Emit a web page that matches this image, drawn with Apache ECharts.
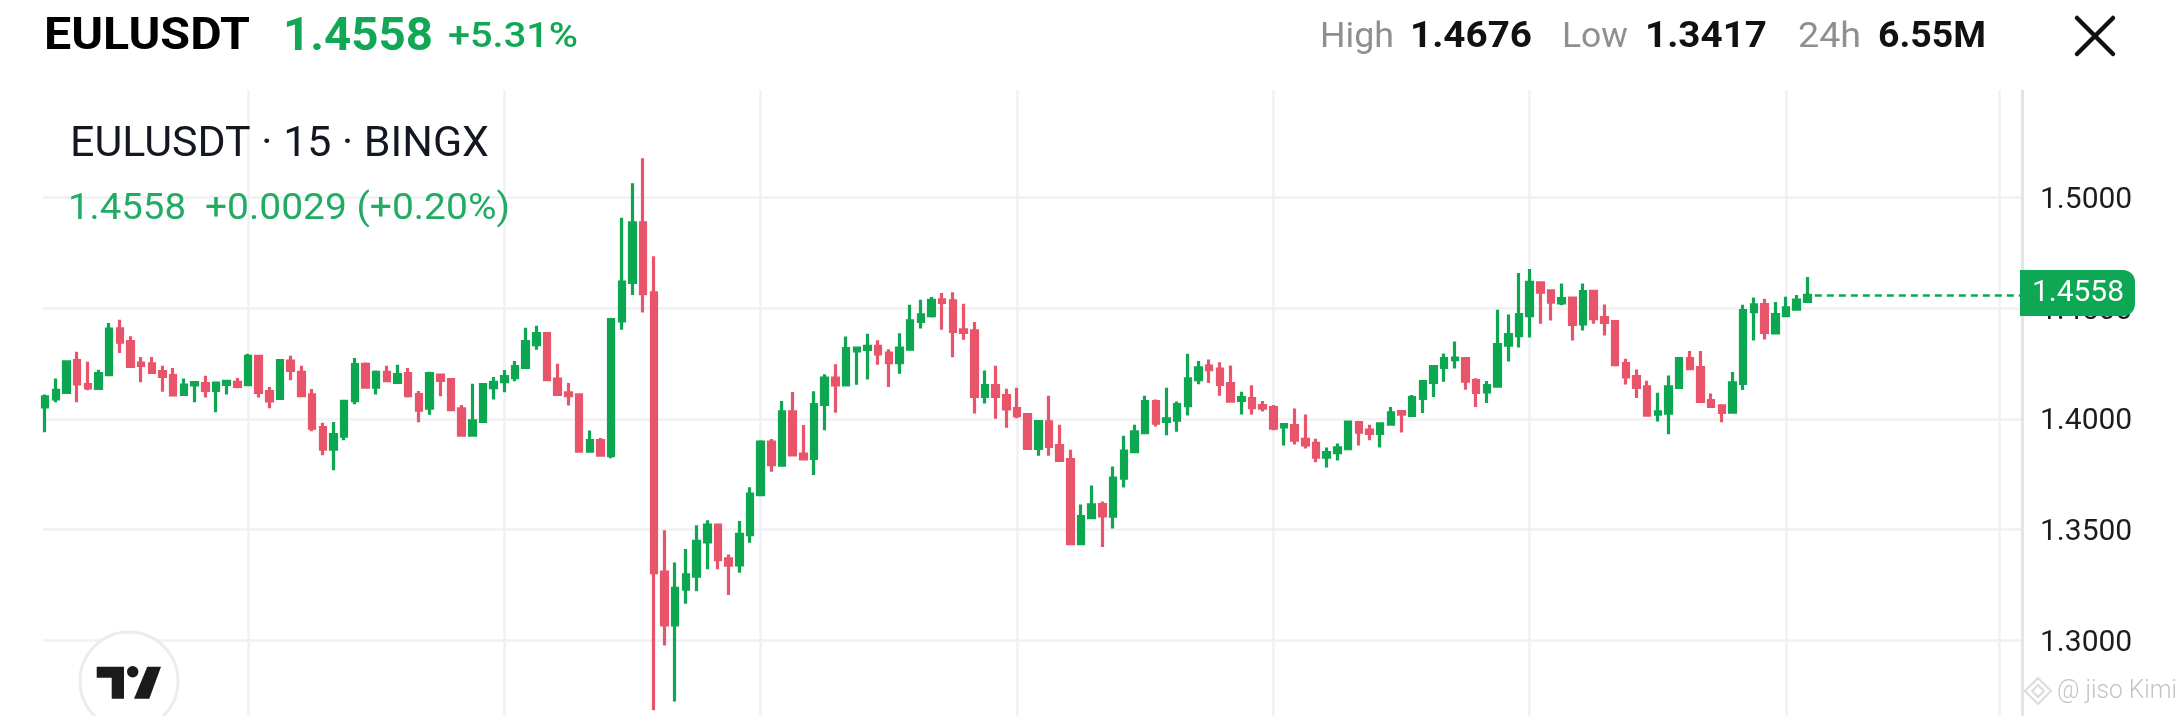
<!DOCTYPE html>
<html><head><meta charset="utf-8">
<style>html,body{margin:0;padding:0;background:#fff;overflow:hidden}#c{width:2183px;height:716px}</style>
<script src="https://cdn.jsdelivr.net/npm/echarts@6/dist/echarts.min.js"></script>
</head><body><div id="c"></div>
<script>
const symbolName = 'EULUSDT';
const lastPrice = '1.4558';
const opens = [
1.4054,1.4090,1.4120,1.4263,1.4155,1.4138,1.4200,1.4407,1.4349,1.4252,
1.4249,1.4213,1.4195,1.4110,1.4153,1.4159,1.4129,1.4156,1.4165,1.4155,
1.4282,1.4123,1.4093,1.4261,1.4210,1.4108,1.3961,1.3863,1.3922,1.4082,
1.4246,1.4143,1.4210,1.4165,1.4204,1.4110,1.4048,1.4198,1.4177,1.4045,
1.3926,1.3989,1.4141,1.4168,1.4186,1.4233,1.4335,1.4385,1.4180,1.4117,
1.4108,1.3854,1.3902,1.3834,1.4443,1.4616,1.4885,1.4569,1.3308,1.3069,
1.3231,1.3290,1.3444,1.3520,1.3368,1.3341,1.3477,1.3658,1.3895,1.3791,
1.4032,1.3841,1.3822,1.4065,1.4184,1.4154,1.4307,1.4314,1.4327,1.4297,
1.4254,1.4315,1.4440,1.4466,1.4538,1.4533,1.4402,1.4398,1.4102,1.4150,
1.4105,1.4046,1.4019,1.3867,1.3986,1.3879,1.3816,1.3437,1.3554,1.3613,
1.3561,1.3732,1.3852,1.3938,1.4078,1.3989,1.3994,1.4060,1.4177,1.4238,
1.4225,1.4159,1.4084,1.4092,1.4060,1.4051,1.3964,1.3970,1.3907,1.3889,
1.3827,1.3847,1.3865,1.3983,1.3949,1.3934,1.3976,1.4033,1.4016,1.4093,
1.4165,1.4233,1.4268,1.4272,1.4173,1.4122,1.4148,1.4333,1.4376,1.4466,
1.4614,1.4578,1.4524,1.4545,1.4429,1.4576,1.4457,1.4439,1.4250,1.4191,
1.4145,1.4021,1.4026,1.4142,1.4272,1.4232,1.4083,1.4059,1.4030,1.4160,
1.4484,1.4516,1.4388,1.4466,1.4496,1.4531];
const closes = [
1.4099,1.4129,1.4257,1.4158,1.4140,1.4204,1.4406,1.4346,1.4237,1.4242,
1.4210,1.4192,1.4108,1.4153,1.4164,1.4129,1.4162,1.4170,1.4147,1.4282,
1.4120,1.4081,1.4263,1.4219,1.4105,1.3958,1.3863,1.3929,1.4079,1.4245,
1.4143,1.4210,1.4173,1.4200,1.4105,1.4039,1.4204,1.4174,1.4042,1.3926,
1.3991,1.4155,1.4165,1.4191,1.4236,1.4349,1.4385,1.4177,1.4111,1.4105,
1.3854,1.3902,1.3836,1.4448,1.4618,1.4885,1.4566,1.3305,1.3069,1.3235,
1.3295,1.3447,1.3520,1.3364,1.3339,1.3479,1.3660,1.3895,1.3793,1.4032,
1.3837,1.3819,1.4065,1.4184,1.4154,1.4317,1.4320,1.4327,1.4294,1.4254,
1.4320,1.4443,1.4470,1.4535,1.4526,1.4395,1.4390,1.4102,1.4150,1.4102,
1.4045,1.4015,1.3867,1.3988,1.3876,1.3813,1.3437,1.3559,1.3612,1.3562,
1.3733,1.3855,1.3941,1.4078,1.3981,1.4000,1.4064,1.4181,1.4231,1.4222,
1.4156,1.4080,1.4096,1.4051,1.4048,1.3958,1.3974,1.3904,1.3883,1.3827,
1.3848,1.3869,1.3985,1.3940,1.3934,1.3977,1.4027,1.4021,1.4096,1.4168,
1.4236,1.4272,1.4275,1.4170,1.4120,1.4150,1.4336,1.4381,1.4471,1.4617,
1.4572,1.4527,1.4543,1.4427,1.4575,1.4453,1.4436,1.4245,1.4190,1.4142,
1.4017,1.4032,1.4145,1.4272,1.4227,1.4079,1.4056,1.4029,1.4163,1.4489,
1.4515,1.4391,1.4471,1.4501,1.4536,1.4558];
const lows = [
1.3940,1.4075,1.4120,1.4075,1.4129,1.4138,1.4192,1.4297,1.4237,1.4165,
1.4210,1.4123,1.4102,1.4110,1.4075,1.4097,1.4030,1.4110,1.4138,1.4150,
1.4097,1.4048,1.4093,1.4174,1.4102,1.3944,1.3836,1.3768,1.3904,1.4066,
1.4143,1.4110,1.4170,1.4165,1.4097,1.3985,1.4019,1.4102,1.4039,1.3926,
1.3926,1.3989,1.4088,1.4120,1.4170,1.4233,1.4312,1.4170,1.4111,1.4060,
1.3854,1.3854,1.3833,1.3822,1.4403,1.4560,1.4480,1.2684,1.2976,1.2724,
1.3165,1.3222,1.3321,1.3321,1.3205,1.3305,1.3441,1.3658,1.3761,1.3789,
1.3832,1.3816,1.3746,1.3949,1.4028,1.4154,1.4154,1.4178,1.4244,1.4144,
1.4204,1.4309,1.4408,1.4458,1.4402,1.4278,1.4357,1.4024,1.4069,1.4001,
1.3960,1.4003,1.3867,1.3834,1.3834,1.3813,1.3436,1.3436,1.3554,1.3421,
1.3505,1.3690,1.3852,1.3933,1.3965,1.3926,1.3942,1.4015,1.4156,1.4162,
1.4105,1.4080,1.4020,1.4020,1.4033,1.3949,1.3880,1.3884,1.3866,1.3804,
1.3780,1.3812,1.3865,1.3880,1.3904,1.3871,1.3973,1.3938,1.4015,1.4027,
1.4099,1.4168,1.4227,1.4132,1.4054,1.4072,1.4148,1.4259,1.4322,1.4367,
1.4430,1.4444,1.4513,1.4354,1.4399,1.4430,1.4376,1.4242,1.4155,1.4094,
1.4017,1.3988,1.3930,1.4139,1.4223,1.4076,1.4055,1.3985,1.4030,1.4130,
1.4354,1.4358,1.4388,1.4460,1.4490,1.4531];
const highs = [
1.4110,1.4182,1.4261,1.4303,1.4258,1.4222,1.4433,1.4448,1.4373,1.4279,
1.4279,1.4240,1.4230,1.4182,1.4167,1.4195,1.4162,1.4177,1.4185,1.4294,
1.4282,1.4144,1.4264,1.4285,1.4240,1.4135,1.3982,1.3986,1.4084,1.4275,
1.4255,1.4218,1.4240,1.4245,1.4230,1.4126,1.4213,1.4198,1.4183,1.4063,
1.4159,1.4155,1.4189,1.4221,1.4261,1.4412,1.4421,1.4392,1.4249,1.4162,
1.4111,1.3947,1.3914,1.4451,1.4908,1.5064,1.5177,1.4734,1.3497,1.3351,
1.3412,1.3520,1.3542,1.3524,1.3388,1.3539,1.3691,1.3904,1.3909,1.4081,
1.4121,1.3972,1.4125,1.4201,1.4247,1.4372,1.4327,1.4384,1.4355,1.4314,
1.4387,1.4515,1.4538,1.4550,1.4568,1.4572,1.4520,1.4437,1.4218,1.4240,
1.4136,1.4141,1.4022,1.3988,1.4105,1.3974,1.3861,1.3613,1.3699,1.3627,
1.3785,1.3924,1.3974,1.4105,1.4087,1.4141,1.4078,1.4294,1.4261,1.4268,
1.4256,1.4241,1.4123,1.4152,1.4081,1.4063,1.3979,1.4047,1.4020,1.3910,
1.3871,1.3889,1.3988,1.3988,1.3973,1.3979,1.4054,1.4036,1.4108,1.4174,
1.4241,1.4295,1.4349,1.4280,1.4183,1.4171,1.4493,1.4471,1.4659,1.4677,
1.4614,1.4584,1.4611,1.4548,1.4611,1.4579,1.4516,1.4442,1.4271,1.4223,
1.4172,1.4118,1.4196,1.4272,1.4307,1.4307,1.4115,1.4059,1.4212,1.4515,
1.4548,1.4542,1.4528,1.4551,1.4560,1.4641];
const verticalGridBars = [19,43,67,91,115,139,163,183];
const tickLabels = ['1.3000','1.3500','1.4000','1.4500','1.5000'];

const UP = '#0ca750', DOWN = '#e8556a', GRID = '#f1f1f3';
const xMin = -0.195, xMax = 185.1, yTop = 1.5485;

const candles = opens.map((o, i) => [i, o, closes[i], lows[i], highs[i]]);
const chart = echarts.init(document.getElementById('c'), null, {renderer: 'canvas'});

const mctx = document.createElement('canvas').getContext('2d');
function T(text, x0, x1, yc, size, weight, color) {
  const family = 'Roboto';
  mctx.font = `${weight} ${size}px ${family}`;
  const w = mctx.measureText(text).width;
  return {type: 'text', x: x0, y: yc, scaleX: (x1 - x0) / w, originX: 0, z: 100,
    style: {text, fontSize: size, fontWeight: weight, fontFamily: family, fill: color, align: 'left', verticalAlign: 'middle'}};
}
function L(x1, y1, x2, y2, color, w) {
  return {type: 'line', z: 100, shape: {x1, y1, x2, y2}, style: {stroke: color, lineWidth: w, lineCap: 'round'}};
}
const GREEN = '#12a755', GRAY = '#8f8f8f';
const graphics = [
  T(symbolName, 44, 250, 38, 45, 700, '#000'),
  T(lastPrice, 283, 433, 38, 46, 700, GREEN),
  T('+5.31%', 448, 578, 38, 35, 500, GREEN),
  T('High', 1320, 1394, 38, 35, 400, GRAY),
  T('1.4676', 1410, 1532, 38, 36, 700, '#111'),
  T('Low', 1562, 1628, 38, 35, 400, GRAY),
  T('1.3417', 1645, 1767, 38, 36, 700, '#111'),
  T('24h', 1798, 1861, 38, 35, 400, GRAY),
  T('6.55M', 1878, 1986, 38, 36, 700, '#111'),
  L(2077, 18, 2113, 54, '#111', 4.5), L(2113, 18, 2077, 54, '#111', 4.5),
  T('EULUSDT · 15 · BINGX', 70, 489, 145, 42, 400, '#131722'),
  T(lastPrice, 68, 186, 210, 37, 400, '#22ab63'),
  T('+0.0029 (+0.20%)', 205, 510, 210, 37, 400, '#22ab63'),
  {type: 'rect', z: 100, shape: {x: 2020, y: 270, width: 115, height: 46, r: [0, 12, 12, 0]}, style: {fill: '#0ea854'}},
  T(lastPrice, 2032, 2124, 293, 30, 400, '#fff'),
  {type: 'circle', z: 100, shape: {cx: 129, cy: 681, r: 49}, style: {fill: '#fff', stroke: '#ececee', lineWidth: 3}},
  {type: 'polygon', z: 101, shape: {points: [[96.7,666.7],[124,666.7],[124,698.7],[111.7,698.7],[111.7,677.7],[96.7,677.7]]}, style: {fill: '#1b1b1b'}},
  {type: 'circle', z: 101, shape: {cx: 132.7, cy: 671.7, r: 5.7}, style: {fill: '#1b1b1b'}},
  {type: 'polygon', z: 101, shape: {points: [[147.3,666.7],[161,666.7],[149.3,698.7],[134,698.7]]}, style: {fill: '#1b1b1b'}},
  {type: 'polygon', z: 100, shape: {points: [[2038,678],[2051,691],[2038,704],[2025,691]]}, style: {fill: 'none', stroke: '#dcdcdc', lineWidth: 2}},
  {type: 'polygon', z: 100, shape: {points: [[2038,685],[2044,691],[2038,697],[2032,691]]}, style: {fill: 'none', stroke: '#dcdcdc', lineWidth: 2}},
  T('@ jiso Kimi', 2057, 2177, 692, 25, 300, '#c4c4c4')
];

chart.setOption({
  animation: false,
  backgroundColor: '#fff',
  grid: {left: 43, top: 86.75, width: 1979, height: 664.25, containLabel: false, outerBoundsMode: 'none'},
  xAxis: {type: 'value', min: xMin, max: xMax, show: false, splitLine: {show: false}},
  yAxis: {
    type: 'value', position: 'right', min: 1.25, max: 1.55, interval: 0.05, scale: true,
    axisLine: {show: false}, axisTick: {show: false},
    axisLabel: {
      margin: 18, color: '#1c1c1c', fontFamily: 'Roboto', fontSize: 30, align: 'left', verticalAlign: 'top', lineHeight: 6,
      formatter: v => { const s = v.toFixed(4); return tickLabels.includes(s) ? s : ''; }
    },
    splitLine: {show: true, showMinLine: false, showMaxLine: false, lineStyle: {color: GRID, width: 2.5}}
  },
  graphic: {elements: graphics},
  series: [
    {
      type: 'line', data: [], z: 0, silent: true, symbol: 'none',
      markLine: {
        silent: true, symbol: 'none', z: 0, animation: false, label: {show: false},
        lineStyle: {color: GRID, width: 2.5, type: 'solid'},
        data: verticalGridBars.map(b => [{coord: [b, yTop]}, {coord: [b, 1.25]}]).concat([
          [{coord: [xMax, yTop], lineStyle: {color: '#e4e4ec', width: 3, type: 'solid'}}, {coord: [xMax, 1.25], lineStyle: {color: '#e4e4ec', width: 3, type: 'solid'}}]
        ])
      }
    },
    {
      type: 'candlestick', z: 2, data: candles, barWidth: 6, encode: {x: 0, y: [1, 2, 3, 4]},
      itemStyle: {color: UP, color0: DOWN, borderColor: UP, borderColor0: DOWN, borderColorDoji: UP, borderWidth: 3.2},
      markLine: {
        silent: true, symbol: 'none', animation: false, label: {show: false},
        lineStyle: {color: UP, width: 2.5, type: [7, 5]},
        data: [[{coord: [165.7, +lastPrice]}, {coord: [xMax, +lastPrice]}]]
      }
    }
  ]
});
</script></body></html>
